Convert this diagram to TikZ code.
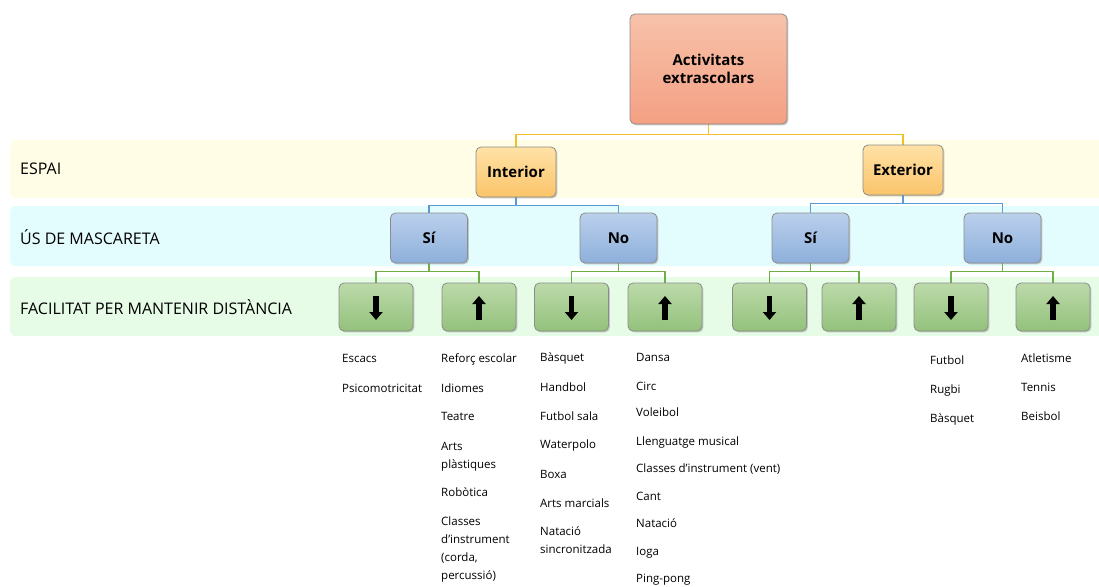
\documentclass[tikz,border=0pt]{standalone}
\usepackage{fontspec}
\setmainfont{Open Sans}
\usetikzlibrary{arrows.meta,shadows}
\pgfdeclarelayer{bandlayer}
\pgfdeclarelayer{edgelayer}
\pgfdeclarelayer{nodelayer}
\pgfsetlayers{bandlayer,edgelayer,nodelayer,main}
\definecolor{bandY}{HTML}{FFFDE6}
\definecolor{bandC}{HTML}{E3FDFE}
\definecolor{bandG}{HTML}{E6FCE6}
\definecolor{boxgray}{HTML}{8C8C8C}
\definecolor{rootT}{HTML}{F7C2AA}
\definecolor{rootB}{HTML}{F4A083}
\definecolor{espT}{HTML}{FFE2A6}
\definecolor{espB}{HTML}{FAC46A}
\definecolor{mascT}{HTML}{BAD0EC}
\definecolor{mascB}{HTML}{8EAFDB}
\definecolor{distT}{HTML}{BCDAAA}
\definecolor{distB}{HTML}{93C17B}
\definecolor{linkY}{HTML}{F2BE2A}
\definecolor{linkB}{HTML}{5B9BD5}
\definecolor{linkG}{HTML}{70AD47}
\tikzstyle{box}=[draw=boxgray, line width=0.8pt, rounded corners=5pt, inner sep=0pt, align=center,
  drop shadow={shadow xshift=1.4pt, shadow yshift=-1.4pt, opacity=0.4},
  font=\fontsize{15}{18}\selectfont\bfseries]
\tikzstyle{root}=[box, minimum width=157pt, minimum height=110pt, top color=rootT, bottom color=rootB]
\tikzstyle{espai}=[box, minimum width=80pt, minimum height=50pt, top color=espT, bottom color=espB]
\tikzstyle{masc}=[box, minimum width=77pt, minimum height=50pt, top color=mascT, bottom color=mascB]
\tikzstyle{dist}=[box, minimum width=74pt, minimum height=48pt, top color=distT, bottom color=distB]
\tikzstyle{bandtext}=[anchor=west, inner sep=0pt, font=\fontsize{16}{18}\selectfont]
\tikzstyle{item}=[anchor=base west, inner sep=0pt, font=\fontsize{11.5}{13}\selectfont]
\tikzstyle{ylink}=[draw=linkY, line width=1.1pt]
\tikzstyle{blink}=[draw=linkB, line width=1.1pt]
\tikzstyle{glink}=[draw=linkG, line width=1.1pt]
\tikzstyle{bigarrow}=[line width=5.5pt, -{Triangle[width=13pt,length=8pt]}]

\begin{document}
\begin{tikzpicture}[x=1pt, y=-1pt]
	\useasboundingbox (0,0) rectangle (1099,586);
	\begin{pgfonlayer}{bandlayer}
		\fill[bandY, rounded corners=6pt] (10,140) rectangle (1110,198);
		\fill[bandC, rounded corners=6pt] (10,206) rectangle (1110,266);
		\fill[bandG, rounded corners=6pt] (10,277) rectangle (1110,336);
	\end{pgfonlayer}
	\node [bandtext] (l1) at (20,169) {ESPAI};
	\node [bandtext] (l2) at (20,237) {ÚS DE MASCARETA};
	\node [bandtext] (l3) at (20,307) {FACILITAT PER MANTENIR DISTÀNCIA};
	\begin{pgfonlayer}{nodelayer}
		\node [root] (0) at (708.5,69) {Activitats\\extrascolars};
		\node [espai] (1) at (516,172) {Interior};
		\node [espai] (2) at (903,170) {Exterior};
		\node [masc] (3) at (429,238) {Sí};
		\node [masc] (4) at (618.5,238) {No};
		\node [masc] (5) at (810.5,238) {Sí};
		\node [masc] (6) at (1002.5,238) {No};
		\node [dist] (7) at (376,307) {};
		\node [dist] (8) at (479,307) {};
		\node [dist] (9) at (571.5,307) {};
		\node [dist] (10) at (665,307) {};
		\node [dist] (11) at (769.5,307) {};
		\node [dist] (12) at (859,307) {};
		\node [dist] (13) at (951,307) {};
		\node [dist] (14) at (1053,307) {};
		\foreach \n in {7,9,11,13}
			\draw[bigarrow] ([yshift=11pt]\n.center) to ([yshift=-13pt]\n.center);
		\foreach \n in {8,10,12,14}
			\draw[bigarrow] ([yshift=-13pt]\n.center) to ([yshift=11pt]\n.center);
	\end{pgfonlayer}
	\begin{pgfonlayer}{edgelayer}
		\foreach \a/\b in {0/1,0/2}
			\draw[ylink] (\a.south) -- ++(0,10) -| (\b.north);
		\foreach \a/\b in {1/3,1/4,2/5,2/6}
			\draw[blink] (\a.south) -- ++(0,8) -| (\b.north);
		\foreach \a/\b in {3/7,3/8,4/9,4/10,5/11,5/12,6/13,6/14}
			\draw[glink] (\a.south) -- ++(0,8) -| (\b.north);
	\end{pgfonlayer}
	% activity lists
	\foreach \y/\t [count=\i] in {362/Escacs,392/Psicomotricitat}
		\node [item] (a\i) at (342,\y) {\t};
	\foreach \y/\t [count=\i] in {362/Reforç escolar,392/Idiomes,420/Teatre,450/Arts,468/plàstiques,
		496/Robòtica,525/Classes,543/d’instrument,561/{(corda,},579/percussió)}
		\node [item] (b\i) at (441,\y) {\t};
	\foreach \y/\t [count=\i] in {361/Bàsquet,391/Handbol,420/Futbol sala,448/Waterpolo,478/Boxa,
		507/Arts marcials,535/Natació,553/sincronitzada}
		\node [item] (c\i) at (540,\y) {\t};
	\foreach \y/\t [count=\i] in {361/Dansa,390/Circ,416/Voleibol,445/Llenguatge musical,
		472/Classes d’instrument (vent),500/Cant,527/Natació,555/Ioga,582/Ping-pong}
		\node [item] (d\i) at (636,\y) {\t};
	\foreach \y/\t [count=\i] in {364/Futbol,393/Rugbi,422/Bàsquet}
		\node [item] (e\i) at (930,\y) {\t};
	\foreach \y/\t [count=\i] in {362/Atletisme,391/Tennis,420/Beisbol}
		\node [item] (f\i) at (1021,\y) {\t};
\end{tikzpicture}
\end{document}
